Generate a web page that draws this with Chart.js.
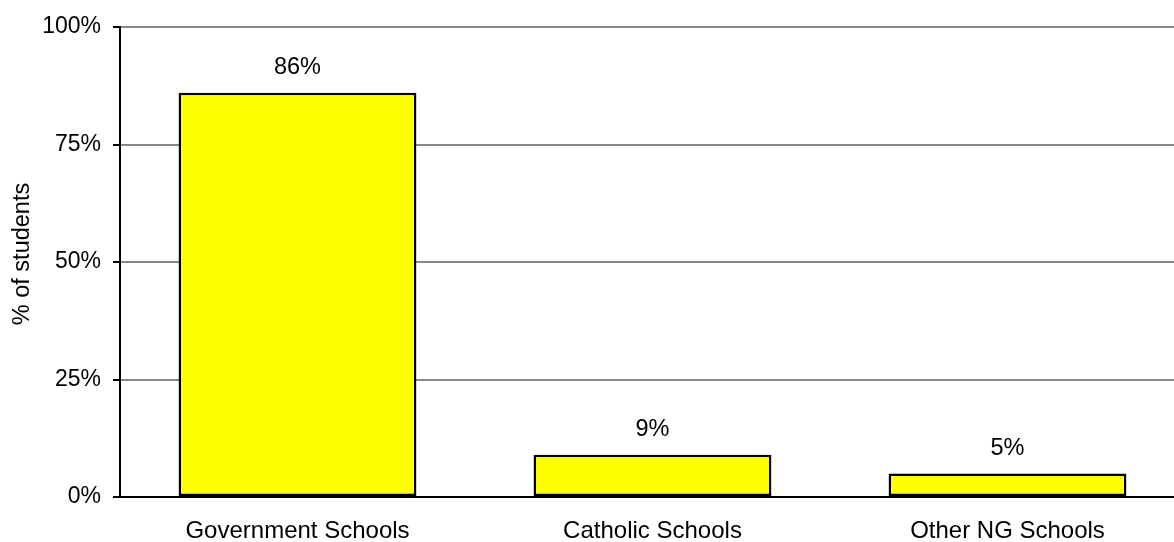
<!DOCTYPE html>
<html>
<head>
<meta charset="utf-8">
<script src="https://cdn.jsdelivr.net/npm/chart.js@4/dist/chart.umd.min.js"></script>
<style>
  html, body { margin: 0; padding: 0; background: #fff; overflow: hidden; }
  #wrap { position: relative; width: 1186px; height: 542px; }
</style>
</head>
<body>
<div id="wrap"><canvas id="c"></canvas></div>
<script>
// School sector shares of enrolled students
const categories = ['Government Schools', 'Catholic Schools', 'Other NG Schools'];
const shares = [86, 9, 5];
const yTicks = [0, 25, 50, 75, 100];
const yTitle = '% of students';

const FONT = 'Liberation Sans, Arial, sans-serif';

// Writes the percentage above each bar and the rotated y-axis title
const valueLabels = {
  id: 'valueLabels',
  afterDatasetsDraw(chart) {
    const ctx = chart.ctx;
    const meta = chart.getDatasetMeta(0);
    ctx.save();
    ctx.font = '23.5px ' + FONT;
    ctx.fillStyle = '#000';
    ctx.textAlign = 'center';
    ctx.textBaseline = 'middle';
    meta.data.forEach((bar, i) => {
      ctx.fillText(shares[i] + '%', bar.x, bar.y - 25);
    });
    const area = chart.chartArea;
    ctx.translate(22.5, (area.top + area.bottom) / 2 - 8);
    ctx.rotate(-Math.PI / 2);
    ctx.fillText(yTitle, 0, 0);
    ctx.restore();
  }
};

new Chart(document.getElementById('c'), {
  type: 'bar',
  data: {
    labels: categories,
    datasets: [{
      data: shares,
      backgroundColor: '#ffff00',
      borderColor: '#000',
      borderWidth: 2.5,
      borderSkipped: false,
      barPercentage: 0.67,
      categoryPercentage: 1
    }]
  },
  options: {
    responsive: true,
    maintainAspectRatio: false,
    animation: false,
    layout: { padding: { top: 27, right: 1, left: 0, bottom: 0 } },
    plugins: { legend: { display: false }, tooltip: { enabled: false } },
    scales: {
      x: {
        grid: { display: false, drawTicks: false },
        border: { color: '#000', width: 2 },
        ticks: { color: '#000', font: { family: FONT, size: 24 }, padding: 20, maxRotation: 0 },
        afterFit(s) { s.height = 45; }
      },
      y: {
        min: 0,
        max: 100,
        afterBuildTicks(s) { s.ticks = yTicks.map(v => ({ value: v })); },
        grid: { color: '#888', lineWidth: 2, tickColor: '#000', tickLength: 7, tickWidth: 2 },
        border: { color: '#000', width: 2 },
        ticks: {
          color: '#000',
          font: { family: FONT, size: 23 },
          padding: 12,
          callback: v => v + '%'
        },
        afterFit(s) { s.width = 120; }
      }
    }
  },
  plugins: [valueLabels]
});
</script>
</body>
</html>
